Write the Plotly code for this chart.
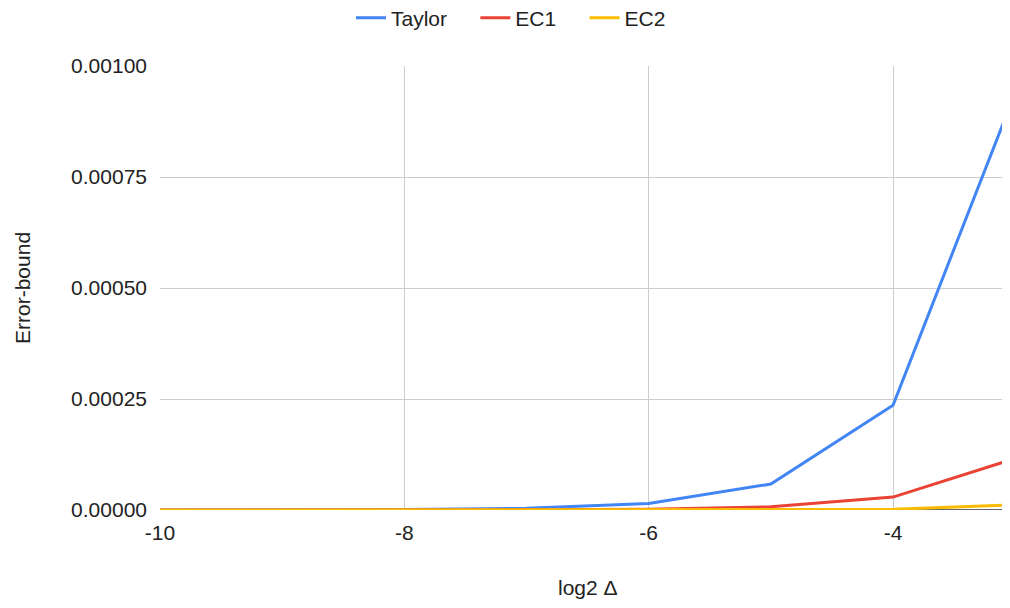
import plotly.graph_objects as go

x_vals = [-10, -9, -8, -7, -6, -5, -4, -3]
taylor = [0.00000006, 0.00000023, 0.0000009, 0.0000037, 0.0000146, 0.0000586, 0.000236, 0.000940]
ec1 = [0.000000007, 0.00000003, 0.00000011, 0.00000045, 0.0000018, 0.0000073, 0.000029, 0.000116]
ec2 = [0.000000000006, 0.00000000005, 0.0000000004, 0.000000003, 0.000000023, 0.00000019, 0.0000015, 0.000012]
series_names = ["Taylor", "EC1", "EC2"]
colors = ["#4285F4", "#EA4335", "#FBBC04"]
y_ticks = [0, 0.00025, 0.0005, 0.00075, 0.001]
x_ticks = [-10, -8, -6, -4]

pad = "\u00a0" * 4
fig = go.Figure()
for i, (name, ys, c) in enumerate(zip(series_names, [taylor, ec1, ec2], colors)):
    label = name + (pad if i < len(series_names) - 1 else "")
    fig.add_trace(go.Scatter(x=x_vals, y=ys, mode="lines", name=label,
                             line=dict(color=c, width=3)))

font = "Arial, 'Liberation Sans', sans-serif"
txt = "#222222"
fig.update_layout(
    width=1010, height=592,
    margin=dict(l=152, r=0, t=58, b=90),
    paper_bgcolor="white", plot_bgcolor="white",
    font=dict(family=font, size=21, color=txt),
    legend=dict(orientation="h", xref="container", x=503 / 1010, xanchor="center",
                yref="container", y=1 - 10 / 592, yanchor="middle",
                font=dict(size=21, color=txt), itemwidth=30),
    xaxis=dict(range=[-10, -2.977], tickvals=x_ticks, ticktext=[str(v) for v in x_ticks],
               showgrid=True, gridcolor="#cccccc", gridwidth=1, zeroline=False,
               showline=False, ticks="", ticklabelstandoff=8,
               tickfont=dict(size=21, color=txt)),
    yaxis=dict(range=[0, 0.001], tickvals=y_ticks, ticktext=[f"{v:.5f}" for v in y_ticks],
               showgrid=True, gridcolor="#cccccc", gridwidth=1, zeroline=False,
               showline=False, ticks="", ticklabelstandoff=12,
               tickfont=dict(size=21, color=txt)),
    shapes=[dict(type="line", xref="paper", yref="y", x0=0, x1=1, y0=0, y1=0,
                 line=dict(color="#333333", width=1.5), layer="below")],
    annotations=[
        dict(text="log2 Δ", xref="x", yref="paper", x=-6.5, y=-77 / 444,
             xanchor="center", yanchor="middle", showarrow=False,
             font=dict(size=21, color=txt)),
        dict(text="Error-bound", xref="paper", yref="paper", x=-138 / 858, y=0.5,
             xanchor="center", yanchor="middle", textangle=-90, showarrow=False,
             font=dict(size=21, color=txt)),
    ],
)

fig.write_html("out.html")
